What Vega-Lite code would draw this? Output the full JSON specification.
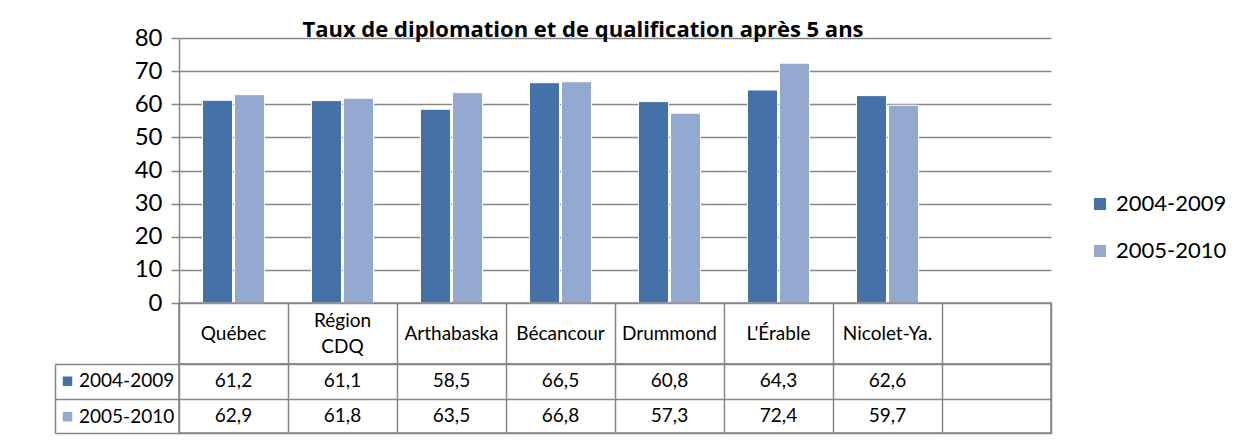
{
  "$schema": "https://vega.github.io/schema/vega-lite/v6.json",
  "background": "white",
  "padding": {"left": 53, "top": 19, "right": 0, "bottom": 0},
  "spacing": 0,
  "bounds": "flush",
  "config": {
    "font": "Lato",
    "view": {"stroke": null},
    "locale": {
      "number": {"decimal": ",", "thousands": " ", "grouping": [3], "currency": ["", " $"]}
    }
  },
  "resolve": {
    "scale": {"x": "independent", "y": "independent", "color": "independent"},
    "axis": {"x": "independent", "y": "independent"},
    "legend": {"color": "independent"}
  },
  "datasets": {
    "rates": [
      {"region": "Québec", "period": "2004-2009", "rate": 61.2},
      {"region": "Québec", "period": "2005-2010", "rate": 62.9},
      {"region": "Région\nCDQ", "period": "2004-2009", "rate": 61.1},
      {"region": "Région\nCDQ", "period": "2005-2010", "rate": 61.8},
      {"region": "Arthabaska", "period": "2004-2009", "rate": 58.5},
      {"region": "Arthabaska", "period": "2005-2010", "rate": 63.5},
      {"region": "Bécancour", "period": "2004-2009", "rate": 66.5},
      {"region": "Bécancour", "period": "2005-2010", "rate": 66.8},
      {"region": "Drummond", "period": "2004-2009", "rate": 60.8},
      {"region": "Drummond", "period": "2005-2010", "rate": 57.3},
      {"region": "L'Érable", "period": "2004-2009", "rate": 64.3},
      {"region": "L'Érable", "period": "2005-2010", "rate": 72.4},
      {"region": "Nicolet-Ya.", "period": "2004-2009", "rate": 62.6},
      {"region": "Nicolet-Ya.", "period": "2005-2010", "rate": 59.7}
    ]
  },
  "vconcat": [
    {
      "width": 872,
      "height": 265,
      "title": {"text": "Taux de diplomation et de qualification après 5 ans", "font": "Open Sans", "fontSize": 22, "fontWeight": "bold", "anchor": "middle", "dx": -32, "offset": -16, "color": "black"},
      "data": {"name": "rates"},
      "mark": {"type": "bar", "stroke": "white", "strokeWidth": 1},
      "encoding": {
        "x": {
          "field": "region", "type": "nominal", "sort": null,
          "scale": {"domain": ["Québec", "Région\nCDQ", "Arthabaska", "Bécancour", "Drummond", "L'Érable", "Nicolet-Ya.", " "], "paddingInner": 0, "paddingOuter": 0},
          "axis": null
        },
        "xOffset": {
          "field": "period", "type": "nominal",
          "scale": {"domain": ["2004-2009", "2005-2010"], "paddingInner": 0.0625, "paddingOuter": 0.734}
        },
        "y": {
          "field": "rate", "type": "quantitative",
          "scale": {"domain": [0, 80], "nice": false},
          "axis": {"values": [0, 10, 20, 30, 40, 50, 60, 70, 80], "title": null, "labelFontSize": 24, "labelColor": "black", "tickSize": 8, "tickColor": "#868686", "tickWidth": 1.5, "domainColor": "#868686", "domainWidth": 1.5, "gridColor": "#868686", "gridWidth": 1.5, "labelPadding": 9}
        },
        "color": {
          "field": "period", "type": "nominal",
          "scale": {"domain": ["2004-2009", "2005-2010"], "range": ["#4571A9", "#94A9D0"]},
          "legend": {"orient": "none", "legendX": 910, "legendY": 155, "title": null, "symbolType": "square", "symbolSize": 144, "symbolStrokeWidth": 0, "labelFontSize": 22, "labelOffset": 5, "rowPadding": 25, "padding": 0, "labelColor": "black"}
        }
      }
    },
    {
      "width": 872,
      "height": 61,
      "view": {"stroke": "#868686", "strokeWidth": 1.5},
      "data": {"name": "rates"},
      "transform": [{"filter": "datum.period == '2004-2009'"}],
      "encoding": {
        "x": {
          "field": "region", "type": "nominal",
          "scale": {"type": "band", "domain": ["Québec", "Région\nCDQ", "Arthabaska", "Bécancour", "Drummond", "L'Érable", "Nicolet-Ya.", " "], "paddingInner": 0, "paddingOuter": 0},
          "axis": {"labels": false, "ticks": false, "domain": false, "grid": true, "gridColor": "#868686", "gridWidth": 1.5, "tickBand": "extent", "title": null, "minExtent": 0, "maxExtent": 0}
        },
        "text": {"field": "region"}
      },
      "layer": [
        {
          "transform": [{"filter": "indexof(datum.region, '\\n') < 0"}],
          "mark": {"type": "text", "fontSize": 19, "color": "black", "baseline": "middle"}
        },
        {
          "transform": [{"filter": "indexof(datum.region, '\\n') >= 0"}],
          "mark": {"type": "text", "fontSize": 19, "lineBreak": "\n", "lineHeight": 26, "color": "black", "baseline": "middle", "dy": -13}
        }
      ]
    },
    {
      "width": 872,
      "height": 69,
      "view": {"stroke": "#868686", "strokeWidth": 1.5},
      "data": {"name": "rates"},
      "encoding": {
        "y": {
          "field": "period", "type": "nominal",
          "scale": {"type": "band", "domain": ["2004-2009", "2005-2010"], "paddingInner": 0, "paddingOuter": 0},
          "axis": {"title": null, "labels": false, "tickBand": "extent", "tickSize": -124, "offset": 124, "domain": true, "domainColor": "#868686", "domainWidth": 1.5, "tickColor": "#868686", "tickWidth": 1.5, "grid": true, "gridColor": "#868686", "gridWidth": 1.5}
        }
      },
      "layer": [
        {
          "mark": {"type": "rect", "opacity": 0},
          "encoding": {
            "color": {
              "field": "period", "type": "nominal",
              "scale": {"domain": ["2004-2009", "2005-2010"], "range": ["#4571A9", "#94A9D0"]},
              "legend": {"orient": "none", "legendX": -121, "legendY": 7.75, "title": null, "symbolType": "square", "symbolSize": 90, "symbolOpacity": 1, "symbolStrokeWidth": 0, "labelFontSize": 19, "labelOffset": 2, "rowPadding": 15.5, "padding": 0, "labelColor": "black"}
            }
          }
        },
        {
          "mark": {"type": "text", "fontSize": 19, "color": "black"},
          "encoding": {
            "x": {
              "field": "region", "type": "nominal",
              "scale": {"type": "band", "domain": ["Québec", "Région\nCDQ", "Arthabaska", "Bécancour", "Drummond", "L'Érable", "Nicolet-Ya.", " "], "paddingInner": 0, "paddingOuter": 0},
              "axis": {"labels": false, "ticks": false, "domain": false, "grid": true, "gridColor": "#868686", "gridWidth": 1.5, "tickBand": "extent", "title": null, "minExtent": 0, "maxExtent": 0}
            },
            "text": {"field": "rate", "type": "quantitative", "format": ".1f"}
          }
        }
      ]
    }
  ]
}
